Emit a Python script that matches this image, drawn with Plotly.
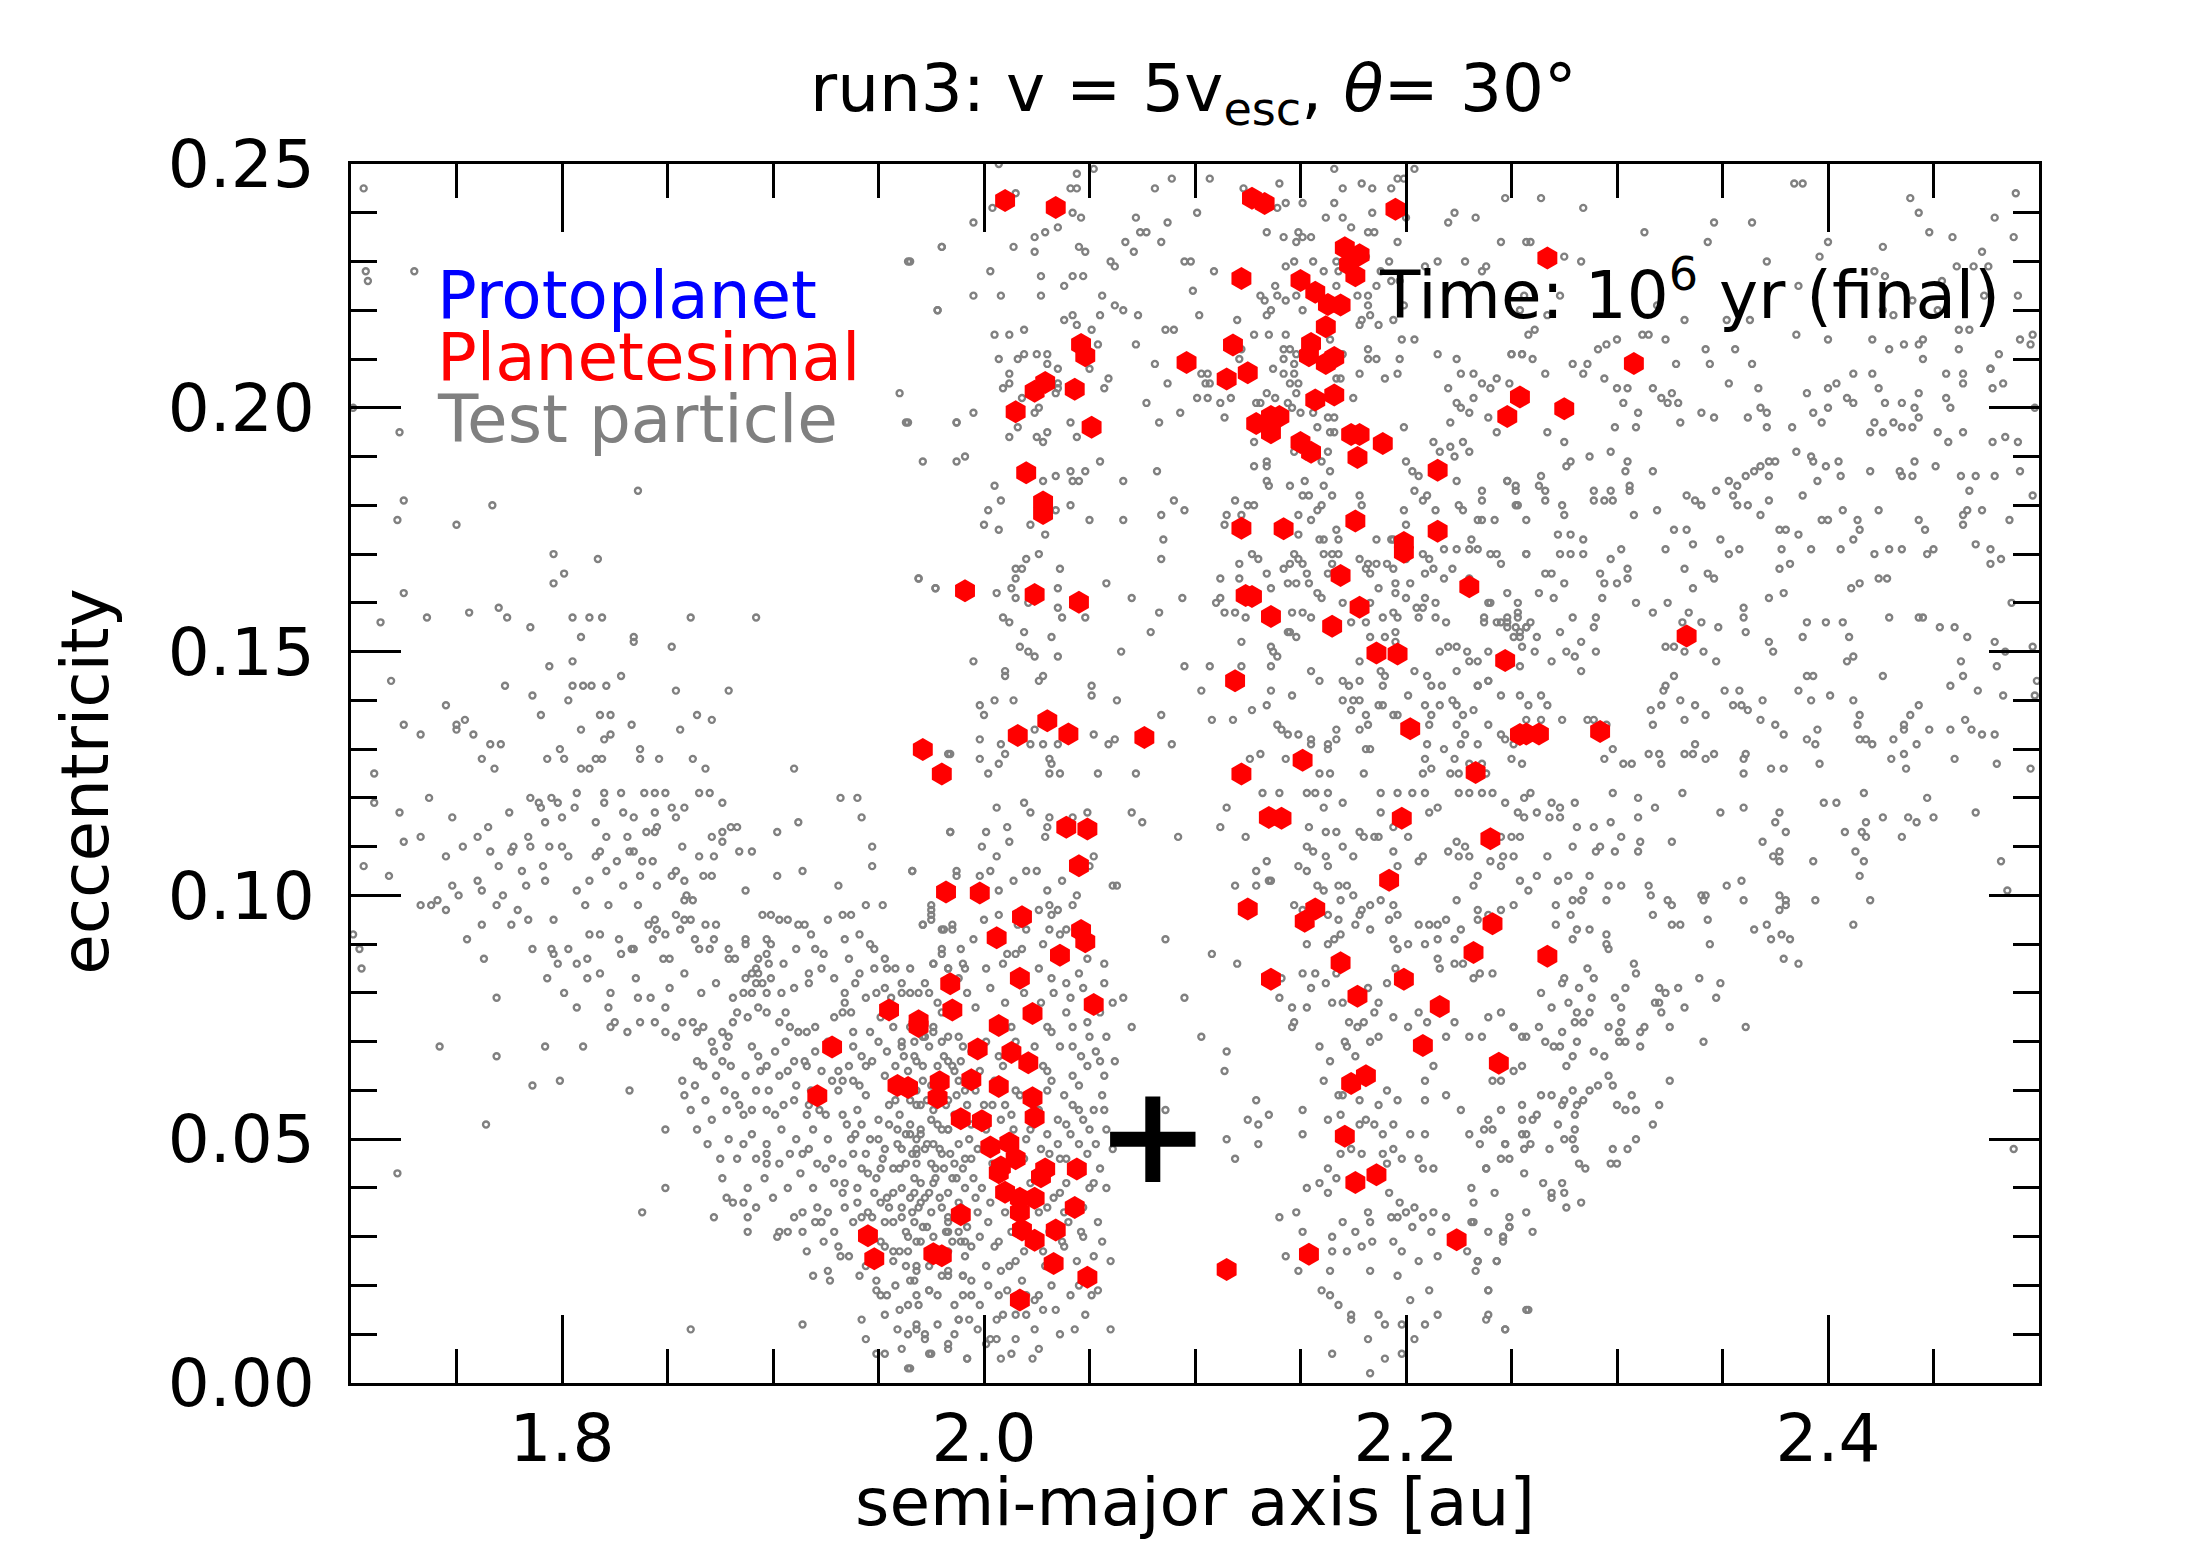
import plotly.graph_objects as go

# ---- test particles (a [au], e) ----
tp_upper_left = [
    (1.706, 0.245), (1.707, 0.228), (1.708, 0.226), (1.730, 0.228), (1.701, 0.200), (1.723, 0.195),
    (1.725, 0.181), (1.722, 0.177), (1.767, 0.180), (1.750, 0.176), (1.836, 0.183), (1.796, 0.170),
    (1.817, 0.169), (1.801, 0.166), (1.796, 0.164), (1.725, 0.162), (1.714, 0.156), (1.736, 0.157),
    (1.756, 0.158), (1.770, 0.159), (1.774, 0.157), (1.785, 0.155), (1.805, 0.157), (1.813, 0.157),
    (1.819, 0.157), (1.809, 0.153), (1.834, 0.153), (1.834, 0.152), (1.852, 0.151), (1.861, 0.157),
    (1.892, 0.157), (1.719, 0.144), (1.773, 0.143), (1.786, 0.141), (1.794, 0.147), (1.805, 0.148),
    (1.803, 0.140), (1.805, 0.143), (1.810, 0.143), (1.814, 0.143), (1.821, 0.143), (1.828, 0.145),
    (1.854, 0.142), (1.879, 0.142), (1.745, 0.139), (1.725, 0.135), (1.733, 0.133), (1.750, 0.135),
    (1.754, 0.136), (1.750, 0.134), (1.758, 0.133), (1.766, 0.131), (1.771, 0.131), (1.762, 0.128),
    (1.768, 0.126), (1.790, 0.137), (1.818, 0.137), (1.823, 0.137), (1.809, 0.134), (1.820, 0.132),
    (1.823, 0.133), (1.833, 0.135), (1.856, 0.134), (1.864, 0.137), (1.871, 0.136), (1.793, 0.128),
    (1.799, 0.130), (1.801, 0.128), (1.809, 0.126), (1.813, 0.126), (1.816, 0.128), (1.819, 0.128),
    (1.837, 0.130), (1.837, 0.128), (1.846, 0.128), (1.862, 0.128), (1.868, 0.126), (1.910, 0.126),
    (1.711, 0.125), (1.965, 0.230), (1.980, 0.233), (1.978, 0.220), (1.960, 0.203), (1.963, 0.197),
    (1.987, 0.197), (1.971, 0.189), (1.987, 0.189), (1.991, 0.190), (1.969, 0.165), (1.977, 0.163),
    (1.983, 0.129),
]

tp_upper_mid = [
    (2.007, 0.250), (2.015, 0.244), (2.004, 0.241), (1.995, 0.238), (1.980, 0.233), (1.964, 0.230),
    (2.044, 0.248), (2.052, 0.249), (2.041, 0.245), (2.044, 0.245), (2.042, 0.240), (2.046, 0.239),
    (2.035, 0.237), (2.081, 0.245), (2.089, 0.247), (2.107, 0.247), (2.101, 0.240), (2.087, 0.238),
    (2.072, 0.239), (2.140, 0.246), (2.123, 0.245), (2.139, 0.241), (2.143, 0.242), (2.151, 0.242),
    (2.166, 0.249), (2.170, 0.245), (2.179, 0.246), (2.184, 0.245), (2.193, 0.245), (2.196, 0.247),
    (2.204, 0.249), (2.199, 0.247), (2.162, 0.239), (2.166, 0.242), (2.170, 0.239), (2.174, 0.237),
    (2.184, 0.240), (2.200, 0.239), (2.196, 0.234), (2.220, 0.238), (2.223, 0.240), (2.233, 0.239),
    (2.247, 0.243), (2.245, 0.234), (2.257, 0.234), (2.024, 0.235), (2.029, 0.236), (2.014, 0.233),
    (2.024, 0.232), (2.003, 0.228), (2.027, 0.227), (2.008, 0.223), (1.995, 0.223), (1.978, 0.220),
    (2.027, 0.223), (2.045, 0.233), (2.048, 0.232), (2.060, 0.230), (2.062, 0.229), (2.067, 0.234),
    (2.071, 0.232), (2.074, 0.236), (2.077, 0.236), (2.084, 0.234), (2.038, 0.225), (2.042, 0.227),
    (2.047, 0.227), (2.056, 0.223), (2.062, 0.221), (2.066, 0.220), (2.073, 0.219), (2.055, 0.219),
    (2.042, 0.219), (2.038, 0.218), (2.095, 0.230), (2.098, 0.230), (2.109, 0.228), (2.099, 0.224),
    (2.102, 0.219), (2.134, 0.236), (2.142, 0.235), (2.149, 0.236), (2.148, 0.234), (2.151, 0.235),
    (2.155, 0.235), (2.147, 0.230), (2.143, 0.229), (2.156, 0.230), (2.161, 0.228), (2.168, 0.228),
    (2.167, 0.230), (2.182, 0.236), (2.185, 0.236), (2.188, 0.228), (2.181, 0.231), (2.192, 0.230),
    (2.138, 0.225), (2.139, 0.223), (2.131, 0.223), (2.133, 0.222), (2.143, 0.222), (2.148, 0.223),
    (2.136, 0.220), (2.134, 0.219), (2.151, 0.220), (2.167, 0.225), (2.177, 0.223), (2.182, 0.223),
    (2.182, 0.221), (2.186, 0.225), (2.193, 0.226), (2.197, 0.226), (2.199, 0.221), (2.194, 0.218),
    (2.179, 0.218), (2.183, 0.219), (2.187, 0.217), (2.178, 0.217), (2.209, 0.229), (2.215, 0.230),
    (2.228, 0.230), (2.238, 0.229), (2.236, 0.228), (2.005, 0.215), (2.012, 0.215), (2.019, 0.216),
    (2.007, 0.210), (2.016, 0.210), (2.019, 0.211), (2.025, 0.211), (2.030, 0.211), (2.030, 0.209),
    (2.035, 0.208), (2.012, 0.207), (2.009, 0.204), (2.012, 0.205), (2.035, 0.205), (2.035, 0.204),
    (2.034, 0.203), (2.018, 0.202), (1.995, 0.199), (1.987, 0.197), (1.964, 0.197), (2.024, 0.199),
    (2.026, 0.200), (2.016, 0.196), (2.012, 0.194), (2.025, 0.194), (2.028, 0.193), (2.030, 0.195),
    (2.041, 0.197), (2.044, 0.194), (2.050, 0.208), (2.054, 0.213), (2.051, 0.216), (2.044, 0.217),
    (2.059, 0.206), (2.057, 0.204), (2.072, 0.213), (2.077, 0.201), (2.083, 0.197), (2.093, 0.199),
    (2.081, 0.209), (2.087, 0.205), (2.086, 0.216), (2.090, 0.216), (2.055, 0.189), (2.066, 0.185),
    (2.082, 0.187), (2.103, 0.207), (2.106, 0.207), (2.105, 0.205), (2.107, 0.205), (2.101, 0.202),
    (2.106, 0.202), (2.112, 0.201), (2.117, 0.202), (2.114, 0.198), (2.120, 0.218), (2.128, 0.215),
    (2.135, 0.215), (2.143, 0.215), (2.121, 0.210), (2.122, 0.212), (2.142, 0.212), (2.145, 0.212),
    (2.148, 0.211), (2.147, 0.209), (2.142, 0.210), (2.137, 0.208), (2.142, 0.207), (2.147, 0.207),
    (2.145, 0.205), (2.149, 0.205), (2.148, 0.203), (2.134, 0.203), (2.129, 0.201), (2.131, 0.201),
    (2.138, 0.202), (2.144, 0.201), (2.146, 0.200), (2.150, 0.199), (2.156, 0.199), (2.158, 0.196),
    (2.163, 0.198), (2.166, 0.198), (2.164, 0.195), (2.166, 0.195), (2.164, 0.214), (2.170, 0.211),
    (2.167, 0.206), (2.169, 0.206), (2.175, 0.202), (2.178, 0.207), (2.182, 0.212), (2.186, 0.210),
    (2.182, 0.210), (2.190, 0.206), (2.196, 0.207), (2.198, 0.214), (2.204, 0.214), (2.197, 0.210),
    (2.199, 0.196), (2.215, 0.211), (2.224, 0.210), (2.226, 0.207), (2.232, 0.207), (2.236, 0.205),
    (2.243, 0.206), (2.240, 0.204), (2.250, 0.211), (2.255, 0.211), (2.249, 0.205), (2.220, 0.204),
    (2.224, 0.201), (2.226, 0.200), (2.230, 0.199), (2.232, 0.202), (2.239, 0.198), (2.243, 0.195),
    (2.221, 0.197), (2.128, 0.193), (2.134, 0.189), (2.134, 0.188), (2.128, 0.188), (2.135, 0.184),
    (2.134, 0.185), (2.145, 0.184), (2.152, 0.185), (2.151, 0.182), (2.154, 0.182), (2.161, 0.184),
    (2.165, 0.182), (2.160, 0.189), (2.163, 0.191), (2.164, 0.187), (2.153, 0.190), (2.147, 0.191),
    (2.119, 0.181), (2.125, 0.180), (2.128, 0.180), (2.115, 0.178), (2.114, 0.176), (2.122, 0.178),
    (2.149, 0.178), (2.155, 0.177), (2.158, 0.179), (2.160, 0.180), (2.178, 0.182), (2.179, 0.180),
    (2.167, 0.175), (2.161, 0.173), (2.168, 0.173), (2.149, 0.174), (2.159, 0.173), (2.199, 0.179),
    (2.200, 0.176), (2.194, 0.173), (2.200, 0.169), (2.204, 0.183), (2.208, 0.181), (2.210, 0.182),
    (2.214, 0.179), (2.200, 0.189), (2.203, 0.187), (2.206, 0.186), (2.213, 0.193), (2.216, 0.191),
    (2.221, 0.192), (2.227, 0.193), (2.230, 0.191), (2.223, 0.190), (2.224, 0.185), (2.248, 0.185),
    (2.252, 0.183), (2.253, 0.180), (2.236, 0.183), (2.236, 0.181), (2.225, 0.180), (2.227, 0.179),
    (2.234, 0.177), (2.236, 0.177), (2.242, 0.177), (2.186, 0.173), (2.193, 0.173), (2.208, 0.170),
    (2.211, 0.169), (2.218, 0.171), (2.224, 0.171), (2.230, 0.171), (2.234, 0.171), (2.240, 0.170),
    (2.245, 0.168), (2.257, 0.170), (2.231, 0.173), (2.257, 0.177), (2.005, 0.184), (2.008, 0.181),
    (2.002, 0.179), (2.000, 0.176), (2.007, 0.175), (2.029, 0.174), (2.034, 0.179), (2.041, 0.180),
    (2.022, 0.176), (2.041, 0.187), (2.048, 0.187), (2.042, 0.185), (2.045, 0.185), (2.028, 0.185),
    (2.034, 0.186), (2.050, 0.177), (2.066, 0.177), (2.084, 0.178), (2.085, 0.173), (2.090, 0.181),
    (2.095, 0.179), (1.969, 0.165), (1.977, 0.163), (2.006, 0.162), (2.013, 0.163), (2.015, 0.161),
    (2.021, 0.160), (2.035, 0.163), (2.035, 0.159), (2.037, 0.157), (2.048, 0.157), (2.015, 0.167),
    (2.018, 0.167), (2.015, 0.165), (2.020, 0.169), (2.026, 0.170), (2.036, 0.167), (2.058, 0.164),
    (2.070, 0.161), (2.094, 0.161), (2.083, 0.158), (2.079, 0.154), (2.065, 0.150), (2.084, 0.169),
    (2.009, 0.157), (2.012, 0.156), (2.019, 0.154), (2.017, 0.151), (2.021, 0.150), (2.024, 0.149),
    (2.032, 0.153), (2.035, 0.149), (1.995, 0.148), (2.010, 0.146), (2.010, 0.145), (2.028, 0.145),
    (2.026, 0.144), (2.112, 0.165), (2.121, 0.165), (2.121, 0.168), (2.127, 0.170), (2.130, 0.169),
    (2.112, 0.161), (2.110, 0.160), (2.114, 0.158), (2.119, 0.158), (2.124, 0.157), (2.122, 0.152),
    (2.136, 0.163), (2.134, 0.166), (2.142, 0.167), (2.145, 0.168), (2.147, 0.170), (2.149, 0.169),
    (2.144, 0.164), (2.148, 0.164), (2.153, 0.166), (2.154, 0.164), (2.151, 0.168), (2.161, 0.170),
    (2.165, 0.170), (2.168, 0.170), (2.165, 0.168), (2.163, 0.166), (2.158, 0.162), (2.160, 0.161),
    (2.170, 0.160), (2.174, 0.156), (2.181, 0.156), (2.151, 0.158), (2.155, 0.157), (2.146, 0.158),
    (2.145, 0.154), (2.148, 0.153), (2.144, 0.154), (2.178, 0.169), (2.181, 0.167), (2.182, 0.168),
    (2.186, 0.168), (2.191, 0.168), (2.194, 0.167), (2.183, 0.166), (2.187, 0.163), (2.183, 0.160),
    (2.189, 0.157), (2.194, 0.158), (2.196, 0.157), (2.195, 0.164), (2.202, 0.164), (2.195, 0.162),
    (2.200, 0.161), (2.205, 0.159), (2.208, 0.159), (2.209, 0.161), (2.214, 0.160), (2.214, 0.157),
    (2.219, 0.156), (2.206, 0.157), (2.209, 0.166), (2.213, 0.167), (2.218, 0.165), (2.222, 0.167),
    (2.230, 0.165), (2.237, 0.157), (2.239, 0.160), (2.245, 0.156), (2.248, 0.157), (2.253, 0.157),
    (2.257, 0.155), (2.190, 0.153), (2.195, 0.154), (2.195, 0.152), (2.183, 0.153), (2.178, 0.148),
    (2.188, 0.146), (2.190, 0.145), (2.204, 0.146), (2.210, 0.145), (2.212, 0.143), (2.217, 0.143),
    (2.216, 0.150), (2.220, 0.151), (2.224, 0.151), (2.229, 0.150), (2.234, 0.148), (2.230, 0.148),
    (2.239, 0.150), (2.224, 0.146), (2.234, 0.143), (2.239, 0.144), (2.248, 0.155), (2.254, 0.154),
    (2.255, 0.151), (2.251, 0.153), (2.254, 0.147), (2.136, 0.151), (2.137, 0.150), (2.139, 0.149),
    (2.136, 0.147), (2.122, 0.147), (2.107, 0.147), (2.095, 0.147), (2.103, 0.142), (2.155, 0.146),
    (2.159, 0.144), (2.170, 0.144), (2.173, 0.143), (2.178, 0.144), (2.189, 0.143), (2.201, 0.141),
    (1.998, 0.139), (2.005, 0.140), (2.014, 0.140), (2.000, 0.137), (1.998, 0.132), (1.998, 0.128),
    (2.002, 0.125), (2.007, 0.127), (2.010, 0.129), (2.008, 0.131), (2.024, 0.134), (2.022, 0.131),
    (2.028, 0.131), (2.031, 0.128), (2.032, 0.127), (2.035, 0.131), (2.031, 0.125), (2.036, 0.125),
    (2.051, 0.143), (2.051, 0.141), (2.063, 0.140), (2.052, 0.133), (2.062, 0.132), (2.059, 0.131),
    (2.084, 0.137), (2.089, 0.131), (2.054, 0.125), (2.072, 0.125), (1.984, 0.129), (2.108, 0.136),
    (2.118, 0.136), (2.127, 0.138), (2.134, 0.139), (2.136, 0.142), (2.146, 0.141), (2.139, 0.135),
    (2.141, 0.134), (2.144, 0.133), (2.149, 0.133), (2.155, 0.132), (2.155, 0.131), (2.163, 0.131),
    (2.163, 0.130), (2.167, 0.134), (2.167, 0.132), (2.126, 0.128), (2.131, 0.129), (2.143, 0.128),
    (2.159, 0.125), (2.164, 0.125), (2.180, 0.125), (2.181, 0.130), (2.183, 0.130), (2.174, 0.138),
    (2.175, 0.140), (2.178, 0.140), (2.170, 0.140), (2.181, 0.137), (2.182, 0.135), (2.178, 0.134),
    (2.187, 0.139), (2.189, 0.139), (2.194, 0.137), (2.196, 0.137), (2.209, 0.139), (2.212, 0.137),
    (2.211, 0.135), (2.216, 0.139), (2.222, 0.140), (2.224, 0.139), (2.227, 0.137), (2.232, 0.138),
    (2.224, 0.135), (2.228, 0.133), (2.234, 0.131), (2.239, 0.135), (2.245, 0.133), (2.247, 0.132),
    (2.251, 0.131), (2.210, 0.131), (2.209, 0.128), (2.212, 0.126), (2.218, 0.130), (2.223, 0.128),
    (2.226, 0.131), (2.230, 0.127), (2.236, 0.127), (2.208, 0.125), (2.221, 0.125), (2.225, 0.125),
    (2.238, 0.125), (2.250, 0.128), (2.255, 0.127),
]

tp_upper_right = [
    (2.264, 0.243), (2.284, 0.241), (2.259, 0.234), (2.275, 0.231), (2.283, 0.230), (2.267, 0.219),
    (2.313, 0.236), (2.346, 0.238), (2.343, 0.234), (2.364, 0.238), (2.371, 0.230), (2.386, 0.225),
    (2.400, 0.234), (2.396, 0.231), (2.384, 0.246), (2.388, 0.246), (2.439, 0.243), (2.443, 0.240),
    (2.448, 0.236), (2.459, 0.235), (2.426, 0.233), (2.489, 0.244), (2.479, 0.239), (2.488, 0.235),
    (2.473, 0.232), (2.461, 0.229), (2.469, 0.229), (2.476, 0.229), (2.422, 0.228), (2.427, 0.227),
    (2.454, 0.226), (2.474, 0.223), (2.490, 0.223), (2.440, 0.222), (2.452, 0.220), (2.431, 0.219),
    (2.426, 0.220), (2.256, 0.223), (2.254, 0.220), (2.273, 0.223), (2.319, 0.221), (2.332, 0.218),
    (2.352, 0.218), (2.363, 0.218), (2.385, 0.215), (2.400, 0.214), (2.421, 0.214), (2.429, 0.212),
    (2.436, 0.213), (2.443, 0.213), (2.445, 0.214), (2.445, 0.210), (2.462, 0.216), (2.467, 0.216),
    (2.462, 0.212), (2.481, 0.211), (2.477, 0.208), (2.491, 0.214), (2.496, 0.213), (2.497, 0.215),
    (2.258, 0.215), (2.261, 0.216), (2.250, 0.211), (2.255, 0.211), (2.260, 0.210), (2.266, 0.207),
    (2.279, 0.209), (2.286, 0.209), (2.284, 0.207), (2.291, 0.212), (2.295, 0.213), (2.300, 0.214),
    (2.312, 0.215), (2.315, 0.215), (2.323, 0.214), (2.328, 0.209), (2.342, 0.212), (2.344, 0.209),
    (2.356, 0.212), (2.364, 0.209), (2.294, 0.206), (2.300, 0.204), (2.305, 0.204), (2.303, 0.201),
    (2.310, 0.199), (2.317, 0.204), (2.321, 0.202), (2.326, 0.203), (2.329, 0.201), (2.324, 0.201),
    (2.330, 0.197), (2.299, 0.196), (2.309, 0.196), (2.267, 0.195), (2.340, 0.199), (2.346, 0.198),
    (2.353, 0.205), (2.367, 0.204), (2.368, 0.200), (2.371, 0.199), (2.362, 0.198), (2.371, 0.196),
    (2.383, 0.196), (2.390, 0.203), (2.393, 0.199), (2.397, 0.197), (2.400, 0.200), (2.400, 0.204),
    (2.404, 0.205), (2.409, 0.202), (2.412, 0.201), (2.412, 0.207), (2.421, 0.207), (2.424, 0.204),
    (2.427, 0.201), (2.420, 0.195), (2.422, 0.197), (2.426, 0.195), (2.431, 0.197), (2.435, 0.201),
    (2.435, 0.196), (2.440, 0.196), (2.441, 0.200), (2.443, 0.198), (2.443, 0.203), (2.456, 0.207),
    (2.464, 0.207), (2.464, 0.205), (2.456, 0.202), (2.458, 0.200), (2.452, 0.195), (2.457, 0.193),
    (2.464, 0.195), (2.477, 0.208), (2.483, 0.205), (2.478, 0.204), (2.498, 0.200), (2.484, 0.194),
    (2.490, 0.193), (2.478, 0.193), (2.275, 0.193), (2.276, 0.188), (2.278, 0.189), (2.287, 0.190),
    (2.297, 0.191), (2.305, 0.189), (2.304, 0.187), (2.306, 0.184), (2.306, 0.183), (2.317, 0.187),
    (2.297, 0.183), (2.264, 0.186), (2.263, 0.184), (2.266, 0.183), (2.266, 0.181), (2.252, 0.184),
    (2.248, 0.185), (2.252, 0.180), (2.274, 0.180), (2.275, 0.178), (2.289, 0.183), (2.289, 0.181),
    (2.294, 0.181), (2.298, 0.181), (2.308, 0.178), (2.319, 0.179), (2.333, 0.182), (2.337, 0.181),
    (2.340, 0.180), (2.347, 0.183), (2.353, 0.185), (2.357, 0.184), (2.361, 0.186), (2.365, 0.187),
    (2.368, 0.188), (2.372, 0.189), (2.375, 0.189), (2.372, 0.186), (2.355, 0.182), (2.357, 0.180),
    (2.362, 0.180), (2.368, 0.178), (2.372, 0.181), (2.388, 0.182), (2.395, 0.185), (2.399, 0.188),
    (2.405, 0.189), (2.406, 0.186), (2.385, 0.191), (2.392, 0.190), (2.393, 0.189), (2.420, 0.187),
    (2.434, 0.187), (2.435, 0.186), (2.440, 0.186), (2.441, 0.189), (2.451, 0.188), (2.463, 0.186),
    (2.470, 0.186), (2.479, 0.186), (2.491, 0.187), (2.467, 0.183), (2.497, 0.182), (2.424, 0.179),
    (2.407, 0.179), (2.414, 0.177), (2.397, 0.177), (2.400, 0.177), (2.443, 0.177), (2.446, 0.175),
    (2.464, 0.178), (2.466, 0.179), (2.473, 0.179), (2.464, 0.176), (2.486, 0.177), (2.272, 0.174),
    (2.278, 0.174), (2.284, 0.173), (2.273, 0.170), (2.278, 0.170), (2.284, 0.170), (2.257, 0.170),
    (2.243, 0.170), (2.323, 0.171), (2.327, 0.175), (2.333, 0.175), (2.336, 0.172), (2.349, 0.173),
    (2.353, 0.170), (2.358, 0.171), (2.377, 0.175), (2.380, 0.175), (2.386, 0.174), (2.392, 0.171),
    (2.378, 0.171), (2.406, 0.171), (2.412, 0.173), (2.415, 0.175), (2.422, 0.170), (2.429, 0.171),
    (2.435, 0.171), (2.447, 0.170), (2.450, 0.171), (2.470, 0.172), (2.477, 0.171), (2.482, 0.169),
    (2.477, 0.168), (2.292, 0.166), (2.297, 0.169), (2.302, 0.171), (2.305, 0.167), (2.305, 0.165),
    (2.300, 0.164), (2.294, 0.164), (2.293, 0.161), (2.290, 0.157), (2.289, 0.155), (2.290, 0.150),
    (2.283, 0.152), (2.280, 0.149), (2.276, 0.150), (2.283, 0.146), (2.273, 0.154), (2.279, 0.157),
    (2.275, 0.164), (2.270, 0.161), (2.266, 0.166), (2.269, 0.166), (2.263, 0.162), (2.248, 0.162),
    (2.253, 0.160), (2.240, 0.160), (2.237, 0.156), (2.243, 0.156), (2.248, 0.156), (2.253, 0.158),
    (2.252, 0.155), (2.257, 0.155), (2.259, 0.156), (2.262, 0.153), (2.261, 0.150), (2.254, 0.153),
    (2.269, 0.148), (2.309, 0.160), (2.317, 0.158), (2.324, 0.160), (2.331, 0.156), (2.334, 0.158),
    (2.332, 0.167), (2.336, 0.163), (2.343, 0.166), (2.346, 0.165), (2.340, 0.156), (2.348, 0.155),
    (2.341, 0.150), (2.347, 0.148), (2.327, 0.151), (2.332, 0.150), (2.323, 0.151), (2.360, 0.159),
    (2.360, 0.157), (2.361, 0.154), (2.372, 0.161), (2.379, 0.162), (2.372, 0.152), (2.374, 0.150),
    (2.377, 0.167), (2.382, 0.168), (2.390, 0.156), (2.388, 0.153), (2.399, 0.156), (2.407, 0.156),
    (2.410, 0.153), (2.409, 0.148), (2.412, 0.149), (2.411, 0.163), (2.415, 0.164), (2.424, 0.165),
    (2.428, 0.165), (2.429, 0.157), (2.443, 0.157), (2.445, 0.157), (2.453, 0.155), (2.460, 0.155),
    (2.466, 0.153), (2.479, 0.152), (2.484, 0.150), (2.487, 0.160), (2.497, 0.151), (2.463, 0.148),
    (2.480, 0.147), (2.234, 0.143), (2.239, 0.144), (2.245, 0.141), (2.254, 0.141), (2.258, 0.139),
    (2.264, 0.141), (2.267, 0.139), (2.257, 0.136), (2.258, 0.134), (2.264, 0.136), (2.274, 0.136),
    (2.286, 0.136), (2.289, 0.136), (2.295, 0.135), (2.298, 0.130), (2.294, 0.128), (2.303, 0.127),
    (2.307, 0.127), (2.315, 0.129), (2.320, 0.129), (2.321, 0.127), (2.316, 0.138), (2.317, 0.135),
    (2.321, 0.139), (2.322, 0.142), (2.323, 0.143), (2.327, 0.145), (2.330, 0.140), (2.337, 0.139),
    (2.342, 0.137), (2.332, 0.136), (2.337, 0.131), (2.332, 0.129), (2.336, 0.129), (2.342, 0.128),
    (2.346, 0.129), (2.351, 0.142), (2.358, 0.142), (2.355, 0.139), (2.359, 0.139), (2.362, 0.138),
    (2.369, 0.140), (2.368, 0.136), (2.375, 0.135), (2.379, 0.133), (2.386, 0.142), (2.390, 0.145),
    (2.393, 0.145), (2.392, 0.140), (2.395, 0.134), (2.394, 0.131), (2.390, 0.132), (2.401, 0.141),
    (2.412, 0.140), (2.415, 0.137), (2.414, 0.135), (2.415, 0.132), (2.421, 0.131), (2.418, 0.132),
    (2.360, 0.128), (2.361, 0.129), (2.373, 0.126), (2.379, 0.126), (2.396, 0.127), (2.360, 0.125),
    (2.426, 0.145), (2.431, 0.132), (2.436, 0.134), (2.436, 0.135), (2.439, 0.137), (2.443, 0.139),
    (2.442, 0.131), (2.448, 0.134), (2.458, 0.134), (2.458, 0.143), (2.464, 0.145), (2.471, 0.142),
    (2.465, 0.136), (2.468, 0.134), (2.473, 0.133), (2.479, 0.133), (2.483, 0.141), (2.436, 0.129),
    (2.430, 0.128), (2.437, 0.126), (2.460, 0.128), (2.480, 0.127), (2.496, 0.126), (2.498, 0.141),
    (2.499, 0.144),
]

tp_lower_left = [
    (1.711, 0.119), (1.723, 0.117), (1.737, 0.120), (1.748, 0.116), (1.725, 0.111), (1.706, 0.106),
    (1.753, 0.110), (1.733, 0.098), (1.738, 0.098), (1.741, 0.099), (1.745, 0.097), (1.748, 0.102),
    (1.751, 0.100), (1.760, 0.103), (1.762, 0.101), (1.762, 0.094), (1.769, 0.098), (1.772, 0.100),
    (1.770, 0.106), (1.765, 0.114), (1.766, 0.109), (1.775, 0.117), (1.776, 0.109), (1.777, 0.110),
    (1.785, 0.120), (1.789, 0.119), (1.790, 0.118), (1.795, 0.120), (1.798, 0.119), (1.800, 0.116),
    (1.806, 0.118), (1.807, 0.121), (1.820, 0.121), (1.820, 0.119), (1.816, 0.115), (1.821, 0.112),
    (1.831, 0.112), (1.828, 0.121), (1.829, 0.117), (1.834, 0.116), (1.839, 0.121), (1.844, 0.121),
    (1.849, 0.121), (1.844, 0.117), (1.840, 0.113), (1.844, 0.113), (1.845, 0.114), (1.852, 0.118),
    (1.854, 0.116), (1.858, 0.118), (1.865, 0.121), (1.870, 0.121), (1.876, 0.119), (1.784, 0.112),
    (1.785, 0.110), (1.792, 0.115), (1.794, 0.110), (1.800, 0.110), (1.803, 0.108), (1.818, 0.109),
    (1.816, 0.108), (1.826, 0.107), (1.832, 0.109), (1.834, 0.109), (1.838, 0.107), (1.843, 0.107),
    (1.837, 0.104), (1.845, 0.102), (1.852, 0.104), (1.854, 0.105), (1.857, 0.110), (1.865, 0.108),
    (1.871, 0.112), (1.876, 0.113), (1.880, 0.114), (1.883, 0.114), (1.876, 0.111), (1.872, 0.108),
    (1.884, 0.109), (1.890, 0.109), (1.902, 0.113), (1.912, 0.115), (1.914, 0.105), (1.902, 0.104),
    (1.887, 0.101), (1.867, 0.104), (1.871, 0.104), (1.858, 0.103), (1.859, 0.100), (1.862, 0.099),
    (1.858, 0.099), (1.932, 0.120), (1.940, 0.120), (1.942, 0.116), (1.947, 0.110), (1.947, 0.106),
    (1.931, 0.102), (1.944, 0.098), (1.952, 0.098), (1.966, 0.105), (1.984, 0.113), (1.987, 0.104),
    (1.783, 0.102), (1.792, 0.103), (1.796, 0.095), (1.779, 0.097), (1.784, 0.095), (1.763, 0.087),
    (1.795, 0.089), (1.796, 0.088), (1.798, 0.086), (1.803, 0.089), (1.807, 0.086), (1.812, 0.087),
    (1.812, 0.083), (1.813, 0.103), (1.811, 0.098), (1.813, 0.092), (1.818, 0.092), (1.827, 0.091),
    (1.828, 0.088), (1.833, 0.089), (1.834, 0.089), (1.807, 0.077), (1.769, 0.079), (1.823, 0.080),
    (1.825, 0.074), (1.823, 0.073), (1.831, 0.072), (1.836, 0.079), (1.837, 0.074), (1.742, 0.069),
    (1.769, 0.067), (1.792, 0.069), (1.810, 0.069), (1.786, 0.061), (1.799, 0.062), (1.832, 0.060),
    (1.764, 0.053), (1.722, 0.043), (1.705, 0.085), (1.701, 0.092), (1.704, 0.089),
    (1.841, 0.094), (1.844, 0.095), (1.845, 0.093), (1.843, 0.091), (1.849, 0.092), (1.848, 0.087),
    (1.851, 0.087), (1.854, 0.096), (1.858, 0.095), (1.856, 0.093), (1.861, 0.095), (1.863, 0.091),
    (1.865, 0.089), (1.870, 0.089), (1.872, 0.091), (1.868, 0.094), (1.873, 0.094), (1.879, 0.089),
    (1.879, 0.087), (1.882, 0.087), (1.887, 0.091), (1.887, 0.090), (1.895, 0.096), (1.899, 0.096),
    (1.903, 0.095), (1.907, 0.095), (1.912, 0.094), (1.915, 0.094), (1.897, 0.091), (1.899, 0.090),
    (1.897, 0.088), (1.898, 0.086), (1.892, 0.085), (1.893, 0.084), (1.890, 0.084), (1.895, 0.082),
    (1.892, 0.082), (1.886, 0.080), (1.890, 0.080), (1.897, 0.080), (1.904, 0.080), (1.910, 0.081),
    (1.917, 0.082), (1.917, 0.084), (1.923, 0.085), (1.920, 0.089), (1.926, 0.095), (1.933, 0.096),
    (1.937, 0.096), (1.934, 0.091), (1.946, 0.090), (1.948, 0.089), (1.953, 0.087), (1.954, 0.085),
    (1.958, 0.085), (1.948, 0.085), (1.941, 0.084), (1.939, 0.082), (1.934, 0.080), (1.934, 0.078),
    (1.949, 0.080), (1.953, 0.081), (1.956, 0.079), (1.961, 0.080), (1.965, 0.080), (1.961, 0.082),
    (1.969, 0.080), (1.974, 0.080), (1.975, 0.095), (1.975, 0.097), (1.971, 0.094), (1.981, 0.093),
    (1.985, 0.094), (1.980, 0.089), (1.980, 0.088), (1.989, 0.089), (1.990, 0.086), (1.976, 0.086),
    (1.983, 0.085), (1.988, 0.083),
    (1.835, 0.083), (1.842, 0.079), (1.851, 0.081), (1.858, 0.084), (1.866, 0.080), (1.873, 0.082),
    (1.881, 0.079), (1.887, 0.083), (1.893, 0.087), (1.899, 0.083), (1.905, 0.086), (1.911, 0.089),
    (1.918, 0.092), (1.924, 0.088), (1.929, 0.083), (1.936, 0.087), (1.941, 0.092), (1.944, 0.079),
    (1.951, 0.075), (1.946, 0.072), (1.926, 0.070), (1.923, 0.064), (1.918, 0.060), (1.911, 0.061),
    (1.903, 0.063), (1.898, 0.060), (1.887, 0.063), (1.880, 0.065), (1.873, 0.063), (1.868, 0.058),
    (1.861, 0.056), (1.871, 0.054), (1.878, 0.056), (1.904, 0.052), (1.911, 0.050), (1.919, 0.052),
    (1.926, 0.050), (1.913, 0.043), (1.919, 0.040), (1.907, 0.040), (1.896, 0.042), (1.926, 0.035),
    (1.935, 0.053), (1.944, 0.047), (1.938, 0.072), (1.955, 0.057), (1.822, 0.098), (1.829, 0.102),
    (1.836, 0.098), (1.821, 0.105), (1.807, 0.101), (1.791, 0.106), (1.781, 0.105), (1.776, 0.094),
    (1.755, 0.091), (1.760, 0.112), (1.745, 0.108), (1.733, 0.112), (1.718, 0.104), (1.786, 0.089),
    (1.793, 0.083), (1.801, 0.080), (1.818, 0.084), (1.822, 0.077),
]

tp_core = [
    (1.849, 0.077), (1.844, 0.074), (1.849, 0.072), (1.854, 0.071), (1.857, 0.074), (1.862, 0.074),
    (1.864, 0.072), (1.867, 0.073), (1.871, 0.070), (1.876, 0.072), (1.879, 0.071), (1.881, 0.074),
    (1.883, 0.076), (1.888, 0.075), (1.893, 0.077), (1.897, 0.076), (1.903, 0.074), (1.906, 0.076),
    (1.908, 0.073), (1.912, 0.072), (1.916, 0.072), (1.920, 0.073), (1.864, 0.066), (1.867, 0.065),
    (1.872, 0.068), (1.876, 0.066), (1.878, 0.069), (1.890, 0.069), (1.893, 0.067), (1.894, 0.064),
    (1.897, 0.065), (1.901, 0.068), (1.906, 0.070), (1.907, 0.064), (1.910, 0.066), (1.915, 0.066),
    (1.916, 0.065), (1.920, 0.068), (1.929, 0.075), (1.933, 0.076), (1.937, 0.076), (1.938, 0.069),
    (1.942, 0.067), (1.944, 0.065), (1.936, 0.065), (1.931, 0.064), (1.928, 0.062), (1.933, 0.062),
    (1.938, 0.062), (1.941, 0.061), (1.950, 0.070), (1.954, 0.068), (1.961, 0.069), (1.958, 0.065),
    (1.967, 0.067), (1.968, 0.066), (1.972, 0.071), (1.976, 0.072), (1.980, 0.070), (1.983, 0.071),
    (1.981, 0.067), (1.985, 0.065), (1.990, 0.069), (1.989, 0.066), (1.971, 0.062), (1.987, 0.059),
    (1.991, 0.060), (1.857, 0.062), (1.858, 0.059), (1.863, 0.061), (1.877, 0.060), (1.882, 0.059),
    (1.884, 0.057), (1.886, 0.055), (1.890, 0.056), (1.892, 0.060), (1.897, 0.056), (1.901, 0.055),
    (1.905, 0.057), (1.910, 0.058), (1.916, 0.055), (1.917, 0.057), (1.922, 0.056), (1.925, 0.055),
    (1.933, 0.055), (1.931, 0.060), (1.849, 0.052), (1.864, 0.052), (1.869, 0.049), (1.875, 0.046),
    (1.879, 0.050), (1.883, 0.046), (1.886, 0.049), (1.890, 0.051), (1.897, 0.049), (1.897, 0.047),
    (1.892, 0.046), (1.897, 0.045), (1.903, 0.045), (1.908, 0.047), (1.914, 0.047), (1.917, 0.048),
    (1.921, 0.045), (1.925, 0.044), (1.928, 0.046), (1.933, 0.045), (1.937, 0.050), (1.939, 0.051),
    (1.942, 0.053), (1.950, 0.054), (1.950, 0.050), (1.953, 0.048), (1.959, 0.052), (1.961, 0.048),
    (1.965, 0.051), (1.968, 0.050), (1.972, 0.048), (1.976, 0.049), (1.980, 0.047), (1.983, 0.052),
    (1.988, 0.049), (1.991, 0.046), (1.963, 0.045), (1.968, 0.045), (1.975, 0.045), (1.957, 0.044),
    (1.949, 0.042), (1.942, 0.044), (1.951, 0.044), (1.876, 0.042), (1.888, 0.040), (1.878, 0.038),
    (1.881, 0.037), (1.886, 0.037), (1.892, 0.036), (1.888, 0.034), (1.872, 0.034), (1.888, 0.031),
    (1.838, 0.035), (1.849, 0.040), (1.900, 0.038), (1.902, 0.030), (1.907, 0.031), (1.910, 0.034),
    (1.914, 0.035), (1.914, 0.031), (1.916, 0.027), (1.920, 0.033), (1.923, 0.033), (1.921, 0.036),
    (1.929, 0.041), (1.933, 0.039), (1.934, 0.036), (1.929, 0.031), (1.931, 0.028), (1.932, 0.026),
    (1.940, 0.040), (1.942, 0.034), (1.945, 0.035), (1.948, 0.039), (1.951, 0.037), (1.953, 0.033),
    (1.955, 0.036), (1.957, 0.039), (1.961, 0.034), (1.963, 0.031), (1.967, 0.033), (1.969, 0.036),
    (1.972, 0.038), (1.975, 0.035), (1.980, 0.036), (1.983, 0.034), (1.982, 0.031), (1.988, 0.031),
    (1.991, 0.029), (1.953, 0.028), (1.957, 0.027), (1.960, 0.027), (1.963, 0.024), (1.965, 0.021),
    (1.968, 0.024), (1.974, 0.024), (1.980, 0.022), (1.983, 0.022), (1.990, 0.022), (1.919, 0.022),
    (1.926, 0.023), (1.927, 0.021), (1.949, 0.019), (1.951, 0.018), (1.954, 0.018), (1.960, 0.015),
    (1.964, 0.016), (1.968, 0.018), (1.942, 0.013), (1.944, 0.009), (1.964, 0.010), (1.968, 0.012),
    (1.972, 0.010), (1.974, 0.019), (1.990, 0.018), (1.988, 0.013), (1.949, 0.006), (1.953, 0.006),
    (1.961, 0.007), (1.965, 0.003), (1.975, 0.006), (1.983, 0.008), (1.992, 0.005), (1.861, 0.011),
    (1.914, 0.012), (1.941, 0.022), (1.924, 0.029), (1.903, 0.031), (1.957, 0.073), (1.965, 0.073),
    (1.961, 0.070), (1.970, 0.075), (1.980, 0.076), (1.960, 0.061), (1.965, 0.058), (1.970, 0.057),
    (1.976, 0.056), (1.982, 0.057), (1.960, 0.055), (1.965, 0.053), (1.970, 0.052), (1.980, 0.052),
    (1.959, 0.049), (1.968, 0.048), (1.981, 0.044), (1.985, 0.042), (1.991, 0.040), (1.970, 0.041),
    (1.974, 0.039), (1.961, 0.040), (1.965, 0.038), (1.957, 0.033), (1.968, 0.029), (1.976, 0.030),
    (1.983, 0.027),
    (1.984, 0.113), (2.006, 0.118), (2.019, 0.119), (2.022, 0.117), (2.030, 0.114), (2.029, 0.112),
    (2.031, 0.116), (2.042, 0.116), (2.049, 0.117), (2.070, 0.117), (2.075, 0.115), (2.092, 0.112),
    (2.001, 0.113), (1.999, 0.110), (2.012, 0.111), (2.011, 0.114), (2.006, 0.108), (2.003, 0.105),
    (1.987, 0.105), (1.998, 0.104), (2.007, 0.101), (2.014, 0.103), (2.020, 0.105), (2.025, 0.105),
    (2.030, 0.101), (2.044, 0.100), (2.037, 0.103), (2.050, 0.106), (2.052, 0.108), (2.063, 0.102),
    (2.042, 0.098), (2.031, 0.098), (2.035, 0.097), (2.032, 0.096), (2.026, 0.097), (2.007, 0.096),
    (2.016, 0.094), (2.020, 0.093), (2.000, 0.095), (1.995, 0.091), (1.985, 0.093), (1.980, 0.093),
    (1.971, 0.094), (1.975, 0.098), (1.975, 0.096), (1.966, 0.105), (1.976, 0.086), (1.983, 0.085),
    (1.991, 0.085), (2.001, 0.085), (2.009, 0.086), (2.011, 0.088), (2.015, 0.088), (2.018, 0.089),
    (2.026, 0.085), (2.032, 0.083), (2.039, 0.082), (2.045, 0.084), (2.049, 0.087), (2.057, 0.086),
    (2.057, 0.082), (2.031, 0.093), (2.028, 0.090), (2.036, 0.092), (2.039, 0.093), (2.049, 0.091),
    (2.061, 0.078), (2.066, 0.079), (2.039, 0.076), (2.042, 0.073), (2.049, 0.074), (2.050, 0.071),
    (2.042, 0.069), (2.030, 0.073), (2.032, 0.072), (2.013, 0.073), (2.015, 0.070), (2.007, 0.067),
    (1.994, 0.068), (2.001, 0.070), (1.988, 0.071), (1.976, 0.073), (1.971, 0.071), (1.967, 0.070),
    (1.974, 0.069), (1.983, 0.066), (1.971, 0.065), (1.964, 0.064), (1.978, 0.065), (1.986, 0.064),
    (1.998, 0.064), (2.009, 0.065), (2.028, 0.065), (2.030, 0.064), (2.046, 0.067), (2.049, 0.065),
    (2.055, 0.066), (2.057, 0.063), (2.062, 0.066), (2.042, 0.063), (2.045, 0.061), (2.038, 0.059),
    (2.042, 0.057), (2.045, 0.056), (2.052, 0.056), (2.057, 0.056), (2.056, 0.059), (2.032, 0.062),
    (2.030, 0.060), (2.015, 0.060), (2.010, 0.057), (2.000, 0.057), (1.992, 0.057), (1.983, 0.058),
    (1.973, 0.058), (1.968, 0.057), (1.975, 0.054), (1.970, 0.051), (1.983, 0.052), (1.994, 0.053),
    (2.008, 0.054), (2.014, 0.052), (2.022, 0.052), (2.030, 0.051), (2.035, 0.049), (2.039, 0.053),
    (2.045, 0.049), (2.050, 0.052), (2.058, 0.052), (2.061, 0.048), (2.049, 0.047), (2.039, 0.046),
    (2.031, 0.047), (2.020, 0.050), (2.001, 0.052), (1.968, 0.047), (1.979, 0.048), (1.986, 0.045),
    (1.994, 0.046), (1.967, 0.042), (1.977, 0.042), (1.987, 0.042), (1.995, 0.042), (1.999, 0.040),
    (1.988, 0.037), (1.979, 0.038), (1.970, 0.037), (1.966, 0.035), (1.973, 0.032), (1.983, 0.033),
    (1.992, 0.032), (1.997, 0.035), (2.002, 0.033), (2.007, 0.029), (1.994, 0.028), (1.989, 0.029),
    (1.983, 0.031), (1.970, 0.029), (1.964, 0.027), (1.968, 0.023), (1.967, 0.021), (1.974, 0.019),
    (1.983, 0.023), (1.990, 0.022), (1.994, 0.018), (1.998, 0.016), (2.002, 0.020), (2.008, 0.023),
    (2.012, 0.024), (2.007, 0.018), (2.009, 0.014), (2.015, 0.014), (2.020, 0.014), (2.020, 0.018),
    (2.026, 0.018), (2.028, 0.015), (2.015, 0.025), (2.019, 0.027), (2.028, 0.027), (2.029, 0.024),
    (2.038, 0.028), (2.044, 0.025), (2.047, 0.030), (2.052, 0.026), (2.054, 0.033), (2.056, 0.029),
    (2.058, 0.040), (2.052, 0.041), (2.039, 0.041), (2.036, 0.039), (2.030, 0.036), (2.026, 0.035),
    (2.038, 0.035), (2.047, 0.036), (2.060, 0.025), (2.045, 0.020), (2.051, 0.018), (2.043, 0.011),
    (2.060, 0.011), (2.054, 0.019), (2.032, 0.020), (1.988, 0.013), (1.993, 0.013), (1.972, 0.009),
    (1.968, 0.011), (1.983, 0.007), (1.992, 0.005), (1.974, 0.006), (1.964, 0.003), (2.008, 0.005),
    (2.013, 0.006), (2.023, 0.005), (2.026, 0.007), (2.001, 0.008), (2.003, 0.009), (2.006, 0.009),
    (2.061, 0.102), (2.070, 0.073), (2.086, 0.091), (2.095, 0.079), (2.103, 0.071), (2.108, 0.088),
    (2.115, 0.068), (2.114, 0.064), (2.120, 0.086), (2.129, 0.058), (2.125, 0.054), (2.130, 0.053),
    (2.135, 0.055), (2.115, 0.050), (2.119, 0.046), (2.130, 0.049), (2.086, 0.056),
    (1.965, 0.085), (1.972, 0.082), (1.978, 0.078), (1.992, 0.080), (1.996, 0.077), (2.003, 0.081),
    (2.010, 0.078), (2.019, 0.080), (2.027, 0.078), (2.033, 0.080), (2.041, 0.079), (2.047, 0.081),
    (2.055, 0.076), (2.058, 0.071), (2.053, 0.068), (2.036, 0.069), (2.024, 0.069), (2.019, 0.066),
    (2.005, 0.062), (1.996, 0.060), (1.988, 0.062), (1.975, 0.061), (1.968, 0.060), (1.962, 0.067),
    (1.958, 0.058), (1.953, 0.063), (1.947, 0.066), (1.944, 0.059), (1.940, 0.056), (1.946, 0.050),
    (1.955, 0.053), (1.963, 0.051), (1.978, 0.053), (1.986, 0.055), (1.993, 0.050), (2.004, 0.057),
    (2.013, 0.055), (2.017, 0.059), (2.026, 0.056), (2.035, 0.054), (2.041, 0.051), (2.047, 0.054),
    (2.053, 0.049), (2.055, 0.044), (2.050, 0.040), (2.043, 0.043), (2.036, 0.046), (2.027, 0.048),
    (2.019, 0.046), (2.011, 0.049), (2.004, 0.045), (1.997, 0.048), (1.990, 0.044), (1.984, 0.047),
    (1.977, 0.044), (1.973, 0.049), (1.966, 0.047), (1.960, 0.044), (1.952, 0.046), (1.945, 0.043),
    (1.938, 0.047), (1.934, 0.041), (1.940, 0.037), (1.947, 0.034), (1.954, 0.038), (1.961, 0.036),
    (1.967, 0.039), (1.976, 0.041), (1.983, 0.039), (1.989, 0.036), (1.996, 0.038), (2.003, 0.037),
    (2.010, 0.035), (2.016, 0.038), (2.022, 0.041), (2.033, 0.038), (2.040, 0.033), (2.046, 0.031),
    (2.037, 0.029), (2.031, 0.031), (2.022, 0.030), (2.013, 0.031), (2.005, 0.028), (1.998, 0.030),
    (1.991, 0.026), (1.985, 0.029), (1.978, 0.027), (1.971, 0.032), (1.964, 0.030), (1.957, 0.025),
    (1.951, 0.029), (1.944, 0.024), (1.936, 0.026), (1.938, 0.033), (1.949, 0.021), (1.958, 0.020),
    (1.969, 0.016), (1.978, 0.018), (1.986, 0.016), (1.994, 0.021), (2.001, 0.024), (2.011, 0.019),
    (2.018, 0.021), (2.024, 0.017), (2.034, 0.015), (2.041, 0.018), (2.048, 0.014), (2.036, 0.010),
    (2.024, 0.011), (2.015, 0.009), (2.006, 0.013), (1.997, 0.011), (1.986, 0.010), (1.978, 0.012),
    (1.959, 0.011), (1.953, 0.014),
]

tp_lower_right = [
    (2.112, 0.114), (2.115, 0.118), (2.124, 0.112), (2.132, 0.121), (2.140, 0.121), (2.153, 0.121),
    (2.157, 0.121), (2.163, 0.121), (2.161, 0.118), (2.170, 0.119), (2.188, 0.121), (2.196, 0.121),
    (2.203, 0.121), (2.209, 0.121), (2.215, 0.118), (2.211, 0.117), (2.225, 0.121), (2.230, 0.121),
    (2.236, 0.121), (2.241, 0.121), (2.247, 0.119), (2.253, 0.117), (2.256, 0.120), (2.188, 0.117),
    (2.194, 0.114), (2.201, 0.112), (2.206, 0.107), (2.208, 0.108), (2.194, 0.109), (2.196, 0.106),
    (2.187, 0.112), (2.180, 0.112), (2.185, 0.112), (2.178, 0.113), (2.170, 0.110), (2.175, 0.108),
    (2.162, 0.113), (2.167, 0.113), (2.154, 0.114), (2.156, 0.109), (2.162, 0.108), (2.163, 0.106),
    (2.153, 0.110), (2.149, 0.106), (2.153, 0.105), (2.134, 0.107), (2.129, 0.105), (2.135, 0.103),
    (2.136, 0.103), (2.119, 0.102), (2.129, 0.102), (2.147, 0.098), (2.151, 0.097), (2.158, 0.102),
    (2.161, 0.101), (2.168, 0.102), (2.172, 0.102), (2.175, 0.100), (2.169, 0.099), (2.178, 0.096),
    (2.179, 0.097), (2.183, 0.098), (2.188, 0.099), (2.194, 0.098), (2.196, 0.096), (2.192, 0.095),
    (2.183, 0.093), (2.176, 0.094), (2.168, 0.095), (2.163, 0.096), (2.169, 0.092), (2.153, 0.090),
    (2.163, 0.090), (2.166, 0.091), (2.151, 0.084), (2.157, 0.084), (2.162, 0.082), (2.167, 0.084),
    (2.141, 0.083), (2.140, 0.079), (2.146, 0.077), (2.153, 0.077), (2.147, 0.074), (2.146, 0.073),
    (2.155, 0.081), (2.165, 0.078), (2.170, 0.078), (2.173, 0.074), (2.177, 0.073), (2.180, 0.074),
    (2.185, 0.076), (2.187, 0.078), (2.182, 0.081), (2.191, 0.082), (2.195, 0.085), (2.196, 0.089),
    (2.201, 0.090), (2.209, 0.090), (2.215, 0.091), (2.223, 0.091), (2.215, 0.087), (2.216, 0.085),
    (2.223, 0.086), (2.227, 0.086), (2.232, 0.083), (2.235, 0.084), (2.241, 0.084), (2.194, 0.091),
    (2.206, 0.094), (2.211, 0.094), (2.215, 0.094), (2.219, 0.095), (2.226, 0.093), (2.234, 0.095),
    (2.239, 0.096), (2.245, 0.097), (2.251, 0.098), (2.234, 0.097), (2.224, 0.099), (2.232, 0.102),
    (2.234, 0.104), (2.240, 0.107), (2.246, 0.108), (2.251, 0.108), (2.254, 0.103), (2.245, 0.106),
    (2.224, 0.111), (2.228, 0.110), (2.220, 0.109), (2.225, 0.108), (2.230, 0.108), (2.245, 0.112),
    (2.250, 0.112), (2.256, 0.116), (2.254, 0.112), (2.159, 0.069), (2.171, 0.070), (2.172, 0.069),
    (2.176, 0.067), (2.183, 0.070), (2.187, 0.071), (2.194, 0.075), (2.201, 0.073), (2.206, 0.076),
    (2.210, 0.074), (2.219, 0.071), (2.223, 0.074), (2.230, 0.071), (2.236, 0.071), (2.239, 0.075),
    (2.245, 0.076), (2.251, 0.073), (2.255, 0.071), (2.255, 0.065), (2.251, 0.064), (2.245, 0.062),
    (2.241, 0.062), (2.209, 0.062), (2.213, 0.065), (2.219, 0.059), (2.226, 0.056), (2.209, 0.058),
    (2.196, 0.058), (2.191, 0.060), (2.187, 0.057), (2.178, 0.058), (2.170, 0.059), (2.168, 0.059),
    (2.163, 0.054), (2.169, 0.055), (2.178, 0.053), (2.181, 0.054), (2.185, 0.053), (2.189, 0.051),
    (2.194, 0.053), (2.202, 0.051), (2.209, 0.051), (2.206, 0.046), (2.213, 0.044), (2.208, 0.044),
    (2.194, 0.048), (2.198, 0.046), (2.189, 0.047), (2.191, 0.045), (2.179, 0.047), (2.174, 0.048),
    (2.169, 0.047), (2.163, 0.044), (2.167, 0.042), (2.159, 0.041), (2.153, 0.040), (2.163, 0.039),
    (2.151, 0.056), (2.151, 0.051), (2.164, 0.066), (2.161, 0.062), (2.230, 0.051), (2.237, 0.052),
    (2.241, 0.052), (2.247, 0.049), (2.255, 0.051), (2.238, 0.044), (2.231, 0.040), (2.249, 0.046),
    (2.256, 0.043), (2.255, 0.057), (2.245, 0.056), (2.239, 0.054), (2.140, 0.034), (2.148, 0.035),
    (2.151, 0.031), (2.165, 0.030), (2.170, 0.033), (2.176, 0.031), (2.182, 0.035), (2.183, 0.033),
    (2.179, 0.028), (2.184, 0.029), (2.172, 0.027), (2.165, 0.027), (2.192, 0.039), (2.197, 0.037),
    (2.193, 0.034), (2.196, 0.034), (2.200, 0.035), (2.204, 0.036), (2.208, 0.034), (2.213, 0.035),
    (2.219, 0.034), (2.203, 0.032), (2.212, 0.031), (2.194, 0.029), (2.198, 0.027), (2.206, 0.025),
    (2.215, 0.026), (2.229, 0.027), (2.234, 0.025), (2.243, 0.025), (2.232, 0.033), (2.239, 0.031),
    (2.249, 0.032), (2.246, 0.030), (2.143, 0.026), (2.149, 0.023), (2.164, 0.023), (2.183, 0.023),
    (2.196, 0.022), (2.211, 0.019), (2.202, 0.017), (2.160, 0.019), (2.164, 0.018), (2.168, 0.016),
    (2.174, 0.014), (2.174, 0.013), (2.187, 0.014), (2.190, 0.012), (2.198, 0.012), (2.209, 0.012),
    (2.215, 0.014), (2.238, 0.013), (2.239, 0.019), (2.247, 0.011), (2.257, 0.015), (2.182, 0.009),
    (2.190, 0.005), (2.198, 0.006), (2.204, 0.009), (2.183, 0.002), (2.165, 0.006),
    (2.259, 0.121), (2.280, 0.119), (2.269, 0.119), (2.273, 0.118), (2.262, 0.117), (2.268, 0.116),
    (2.273, 0.116), (2.281, 0.114), (2.289, 0.114), (2.297, 0.115), (2.298, 0.121), (2.310, 0.120),
    (2.318, 0.118), (2.310, 0.116), (2.302, 0.112), (2.311, 0.111), (2.326, 0.111), (2.331, 0.121),
    (2.349, 0.117), (2.360, 0.118), (2.377, 0.117), (2.375, 0.115), (2.380, 0.113), (2.369, 0.111),
    (2.377, 0.109), (2.374, 0.108), (2.377, 0.107), (2.393, 0.107), (2.398, 0.119), (2.404, 0.119),
    (2.417, 0.121), (2.418, 0.115), (2.416, 0.113), (2.418, 0.112), (2.408, 0.113), (2.413, 0.109),
    (2.417, 0.107), (2.415, 0.104), (2.420, 0.099), (2.412, 0.094), (2.426, 0.116), (2.435, 0.112),
    (2.438, 0.116), (2.442, 0.115), (2.450, 0.116), (2.447, 0.120), (2.470, 0.117), (2.482, 0.107),
    (2.485, 0.101), (2.279, 0.110), (2.290, 0.109), (2.299, 0.109), (2.310, 0.109), (2.292, 0.110),
    (2.267, 0.108), (2.258, 0.101), (2.262, 0.104), (2.272, 0.103), (2.277, 0.104), (2.284, 0.101),
    (2.287, 0.104), (2.296, 0.102), (2.302, 0.102), (2.315, 0.102), (2.316, 0.100), (2.295, 0.099),
    (2.279, 0.099), (2.283, 0.099), (2.271, 0.098), (2.278, 0.096), (2.271, 0.094), (2.287, 0.093),
    (2.281, 0.093), (2.279, 0.091), (2.295, 0.092), (2.295, 0.090), (2.296, 0.089), (2.317, 0.096),
    (2.324, 0.099), (2.326, 0.098), (2.326, 0.094), (2.330, 0.094), (2.340, 0.100), (2.342, 0.100),
    (2.341, 0.099), (2.352, 0.102), (2.359, 0.103), (2.343, 0.095), (2.344, 0.090), (2.360, 0.099),
    (2.377, 0.100), (2.380, 0.099), (2.380, 0.098), (2.377, 0.097), (2.394, 0.099), (2.365, 0.093),
    (2.371, 0.094), (2.373, 0.091), (2.378, 0.092), (2.382, 0.091), (2.379, 0.087), (2.386, 0.086),
    (2.264, 0.080), (2.269, 0.077), (2.275, 0.083), (2.274, 0.082), (2.277, 0.078), (2.282, 0.081),
    (2.288, 0.079), (2.286, 0.085), (2.289, 0.083), (2.287, 0.076), (2.281, 0.076), (2.280, 0.074),
    (2.284, 0.074), (2.263, 0.073), (2.274, 0.072), (2.266, 0.070), (2.270, 0.069), (2.273, 0.069),
    (2.257, 0.071), (2.251, 0.073), (2.281, 0.070), (2.289, 0.068), (2.294, 0.067), (2.276, 0.065),
    (2.279, 0.067), (2.299, 0.079), (2.302, 0.077), (2.302, 0.074), (2.296, 0.073), (2.301, 0.072),
    (2.301, 0.070), (2.304, 0.070), (2.311, 0.069), (2.311, 0.072), (2.313, 0.073), (2.304, 0.081),
    (2.309, 0.084), (2.308, 0.086), (2.320, 0.081), (2.323, 0.080), (2.318, 0.078), (2.320, 0.078),
    (2.321, 0.076), (2.325, 0.073), (2.329, 0.081), (2.332, 0.077), (2.339, 0.083), (2.341, 0.070),
    (2.347, 0.079), (2.349, 0.082), (2.361, 0.073), (2.296, 0.063), (2.298, 0.061), (2.291, 0.061),
    (2.287, 0.060), (2.284, 0.058), (2.281, 0.057), (2.275, 0.058), (2.274, 0.057), (2.264, 0.059),
    (2.269, 0.059), (2.279, 0.060), (2.262, 0.055), (2.260, 0.054), (2.255, 0.054), (2.257, 0.051),
    (2.259, 0.049), (2.256, 0.048), (2.247, 0.049), (2.245, 0.046), (2.238, 0.044), (2.235, 0.049),
    (2.242, 0.039), (2.232, 0.037), (2.231, 0.033), (2.249, 0.034), (2.249, 0.032), (2.257, 0.035),
    (2.260, 0.031), (2.265, 0.041), (2.269, 0.039), (2.269, 0.038), (2.274, 0.041), (2.275, 0.039),
    (2.276, 0.036), (2.283, 0.037), (2.268, 0.048), (2.275, 0.050), (2.279, 0.050), (2.280, 0.048),
    (2.272, 0.053), (2.280, 0.052), (2.280, 0.055), (2.298, 0.048), (2.297, 0.045), (2.300, 0.045),
    (2.305, 0.048), (2.309, 0.050), (2.317, 0.053), (2.320, 0.057), (2.325, 0.062), (2.309, 0.056),
    (2.304, 0.056), (2.307, 0.059), (2.300, 0.057), (2.282, 0.045), (2.285, 0.044), (2.246, 0.030),
    (2.246, 0.029), (2.243, 0.025), (2.233, 0.023), (2.234, 0.025), (2.239, 0.019), (2.239, 0.014),
    (2.258, 0.015), (2.247, 0.011), (2.488, 0.048),
]

# ---- planetesimals (a [au], e) ----
pl_upper = [
    (2.010, 0.2425), (2.034, 0.2411), (2.127, 0.2430), (2.133, 0.2419), (2.195, 0.2407),
    (2.171, 0.2328), (2.178, 0.2314), (2.173, 0.2294), (2.176, 0.2271), (2.122, 0.2265),
    (2.150, 0.2261), (2.157, 0.2237), (2.163, 0.2212), (2.169, 0.2211), (2.162, 0.2166),
    (2.046, 0.2130), (2.048, 0.2107), (2.118, 0.2129), (2.155, 0.2132), (2.154, 0.2107),
    (2.162, 0.2091), (2.166, 0.2103), (2.096, 0.2093), (2.125, 0.2072), (2.115, 0.2059),
    (2.029, 0.2052), (2.024, 0.2034), (2.043, 0.2038), (2.157, 0.2016), (2.166, 0.2026),
    (2.015, 0.1992), (2.051, 0.1960), (2.129, 0.1968), (2.136, 0.1982), (2.140, 0.1982),
    (2.136, 0.1949), (2.174, 0.1945), (2.178, 0.1945), (2.189, 0.1927), (2.150, 0.1929),
    (2.155, 0.1909), (2.177, 0.1898), (2.215, 0.1872), (2.020, 0.1867), (2.028, 0.1807),
    (2.028, 0.1783), (2.122, 0.1753), (2.142, 0.1752), (2.176, 0.1768), (2.215, 0.1747),
    (2.199, 0.1724), (2.199, 0.1704), (2.169, 0.1656), (2.230, 0.1633), (1.991, 0.1625),
    (2.024, 0.1617), (2.045, 0.1601), (2.124, 0.1615), (2.127, 0.1613), (2.136, 0.1572),
    (2.178, 0.1591), (2.165, 0.1552), (2.186, 0.1497), (2.196, 0.1495), (2.247, 0.1482),
    (2.119, 0.1440), (2.030, 0.1358), (2.016, 0.1328), (2.040, 0.1331), (2.076, 0.1324),
    (2.202, 0.1342), (1.971, 0.1299), (2.151, 0.1277), (1.980, 0.1249), (2.122, 0.1249),
    (2.233, 0.1252), (2.254, 0.1330), (2.254, 0.2022), (2.248, 0.1982), (2.267, 0.2307),
    (2.308, 0.2091), (2.275, 0.1998), (2.333, 0.1532), (2.257, 0.1331), (2.263, 0.1331),
    (2.292, 0.1336),
]

pl_lower = [
    (1.982, 0.1007), (1.984, 0.0819), (1.955, 0.0765), (1.969, 0.0743), (1.969, 0.0731),
    (1.985, 0.0765), (1.928, 0.0689), (1.959, 0.0610), (1.964, 0.0606), (1.979, 0.0618),
    (1.978, 0.0585), (1.921, 0.0589), (1.989, 0.0542), (1.989, 0.0345), (1.945, 0.0302),
    (1.948, 0.0255), (1.976, 0.0265), (1.980, 0.0261), (2.039, 0.1140), (2.049, 0.1136),
    (2.045, 0.1061), (1.998, 0.1005), (2.018, 0.0956), (2.006, 0.0913), (2.046, 0.0928),
    (2.048, 0.0905), (2.036, 0.0877), (2.017, 0.0830), (2.023, 0.0758), (2.052, 0.0776),
    (2.007, 0.0733), (1.997, 0.0685), (2.013, 0.0678), (2.021, 0.0657), (1.994, 0.0622),
    (2.007, 0.0608), (2.023, 0.0585), (1.999, 0.0538), (2.024, 0.0545), (2.003, 0.0484),
    (2.012, 0.0492), (2.015, 0.0460), (2.008, 0.0443), (2.007, 0.0431), (2.029, 0.0439),
    (2.027, 0.0423), (2.044, 0.0439), (2.010, 0.0391), (2.017, 0.0379), (2.024, 0.0379),
    (2.017, 0.0350), (2.018, 0.0314), (2.024, 0.0293), (2.043, 0.0360), (2.034, 0.0314),
    (2.033, 0.0245), (2.049, 0.0217), (2.017, 0.0170), (2.115, 0.0233), (2.135, 0.1160),
    (2.141, 0.1158), (2.198, 0.1158), (2.240, 0.1116), (2.192, 0.1031), (2.125, 0.0972),
    (2.157, 0.0972), (2.152, 0.0947), (2.241, 0.0942), (2.232, 0.0883), (2.169, 0.0862),
    (2.136, 0.0828), (2.199, 0.0828), (2.177, 0.0793), (2.216, 0.0772), (2.208, 0.0692),
    (2.244, 0.0656), (2.181, 0.0630), (2.174, 0.0614), (2.171, 0.0506), (2.176, 0.0411),
    (2.186, 0.0427), (2.224, 0.0294), (2.154, 0.0264), (2.267, 0.0875),
]

# ---- black plus marker ----
plus_a = [2.08]
plus_e = [0.05]

x_ticks = [1.8, 2.0, 2.2, 2.4]
y_ticks = [0.00, 0.05, 0.10, 0.15, 0.20, 0.25]

test_particles = tp_upper_left + tp_upper_mid + tp_upper_right + tp_lower_left + tp_core + tp_lower_right
planetesimals = pl_upper + pl_lower

FONT = "DejaVu Sans"
FS = 66
GRAY = "#808080"

fig = go.Figure()
fig.add_trace(go.Scatter(
    x=[p[0] for p in test_particles], y=[p[1] for p in test_particles],
    mode="markers",
    marker=dict(symbol="circle-open", size=6, color=GRAY, line=dict(width=2.4, color=GRAY)),
    hoverinfo="skip",
))
fig.add_trace(go.Scatter(
    x=[p[0] for p in planetesimals], y=[p[1] for p in planetesimals],
    mode="markers",
    marker=dict(symbol="hexagon", size=23, color="#ff0000", line=dict(width=0)),
    hoverinfo="skip",
))
fig.add_trace(go.Scatter(
    x=plus_a, y=plus_e, mode="markers",
    marker=dict(symbol="cross-thin", size=61, color="black", line=dict(width=15, color="black")),
    hoverinfo="skip",
))

axis_common = dict(
    showline=True, linecolor="black", linewidth=3, mirror="allticks",
    ticks="inside", tickcolor="black", tickwidth=3,
    showgrid=False, zeroline=False,
    tickfont=dict(family=FONT, size=FS, color="black"),
)

fig.update_xaxes(
    range=[1.7, 2.5], tickvals=x_ticks, ticktext=[f"{v:.1f}" for v in x_ticks],
    ticklen=68, ticklabelstandoff=-4,
    minor=dict(dtick=0.05, tick0=1.7, ticks="inside", ticklen=34, tickwidth=3, tickcolor="black"),
    **axis_common,
)
fig.update_yaxes(
    range=[0, 0.25], tickvals=y_ticks, ticktext=[f"{v:.2f}" for v in y_ticks],
    ticklen=50, ticklabelstandoff=20,
    minor=dict(dtick=0.01, tick0=0, ticks="inside", ticklen=26, tickwidth=3, tickcolor="black"),
    **axis_common,
)

annotations = [
    dict(text="run3: v = 5v<sub>esc</sub>, <i>θ</i>= 30°", x=0.499, y=1.058, xanchor="center", yanchor="middle",
         font=dict(size=FS, color="black")),
    dict(text="semi-major axis [au]", x=0.5, y=-0.098, xanchor="center", yanchor="middle",
         font=dict(size=FS, color="black")),
    dict(text="eccentricity", x=-0.157, y=0.494, xanchor="center", yanchor="middle", textangle=-90,
         font=dict(size=FS, color="black")),
    dict(text="Protoplanet", x=0.050, y=0.892, xanchor="left", yanchor="middle",
         font=dict(size=FS, color="#0000ff")),
    dict(text="Planetesimal", x=0.050, y=0.841, xanchor="left", yanchor="middle",
         font=dict(size=FS, color="#ff0000")),
    dict(text="Test particle", x=0.050, y=0.790, xanchor="left", yanchor="middle",
         font=dict(size=FS, color=GRAY)),
    dict(text="Time: 10<sup>6</sup> yr (final)", x=0.978, y=0.896, xanchor="right", yanchor="middle",
         font=dict(size=FS, color="black")),
]
for a in annotations:
    a.update(xref="paper", yref="paper", showarrow=False)
    a["font"]["family"] = FONT

fig.update_layout(
    width=2188, height=1563,
    margin=dict(l=343, r=157, t=156, b=188),
    plot_bgcolor="white", paper_bgcolor="white",
    showlegend=False,
    annotations=annotations,
    font=dict(family=FONT, color="black"),
)

fig.write_html("out.html")
